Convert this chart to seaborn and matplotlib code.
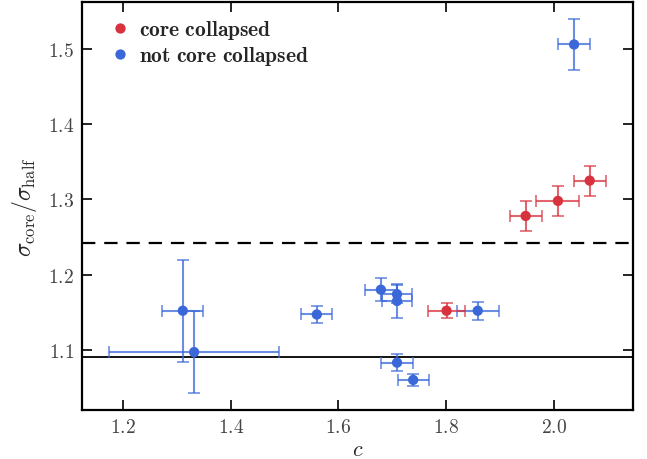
import matplotlib
matplotlib.use("Agg")
import matplotlib.pyplot as plt
import seaborn as sns
import pandas as pd
import numpy as np
from matplotlib.ticker import FuncFormatter, MultipleLocator

# Data
c_vals = [1.311, 1.332, 1.560, 1.679, 1.709, 1.709, 1.709, 1.739, 1.859, 2.038,
          1.801, 1.948, 2.008, 2.067]
ratio = [1.152, 1.097, 1.147, 1.180, 1.174, 1.165, 1.083, 1.060, 1.152, 1.506,
         1.152, 1.278, 1.298, 1.325]
c_err = [0.038, 0.158, 0.029, 0.030, 0.028, 0.028, 0.029, 0.029, 0.039, 0.030,
         0.035, 0.030, 0.040, 0.030]
ratio_err = [0.068, 0.055, 0.011, 0.015, 0.012, 0.022, 0.011, 0.008, 0.012, 0.034,
             0.010, 0.020, 0.020, 0.020]
group = ["not core collapsed"] * 10 + ["core collapsed"] * 4
hline_solid = 1.0907
hline_dashed = 1.2425

df = pd.DataFrame({"c": c_vals, "ratio": ratio, "c_err": c_err,
                   "ratio_err": ratio_err, "group": group})

sns.set_style("ticks")
plt.rcParams["mathtext.fontset"] = "cm"
plt.rcParams["font.family"] = ["DejaVu Serif"]

red = "#d8323f"
blue = "#3b68d9"
palette = {"core collapsed": red, "not core collapsed": blue}

fig = plt.figure(figsize=(6.47, 4.6), dpi=100)
ax = fig.add_axes([0.127, 0.1065, 0.851, 0.887])

ax.axhline(hline_solid, color="black", lw=1.3, zorder=1)
ax.axhline(hline_dashed, color="black", lw=1.6, ls=(0, (6, 4)), zorder=1)

for g in ["not core collapsed", "core collapsed"]:
    sub = df[df.group == g]
    ax.errorbar(sub.c, sub.ratio, xerr=sub.c_err, yerr=sub.ratio_err,
                fmt="none", ecolor=palette[g], elinewidth=1.5, capsize=4,
                capthick=1.2, alpha=0.75, zorder=2)

sns.scatterplot(data=df, x="c", y="ratio", hue="group",
                hue_order=["core collapsed", "not core collapsed"],
                palette=palette, s=55, linewidth=0, ax=ax, zorder=3)

ax.set_xlim(1.124, 2.147)
ax.set_ylim(1.02, 1.5625)
ax.xaxis.set_major_locator(MultipleLocator(0.2))
ax.yaxis.set_major_locator(MultipleLocator(0.1))
fmt = FuncFormatter(lambda v, p: r"$%.1f$" % v)
ax.xaxis.set_major_formatter(fmt)
ax.yaxis.set_major_formatter(fmt)
ax.tick_params(direction="in", length=7, width=1.2, top=True, right=True,
               labelsize=14, colors="black", labelcolor="#444444", pad=6)
for s in ax.spines.values():
    s.set_linewidth(1.6)
    s.set_color("black")

ax.set_xlabel(r"$c$", fontsize=16, labelpad=1)
ax.set_ylabel(r"$\sigma_{\rm core}/\sigma_{\rm half}$", fontsize=17, labelpad=6)

handles, labels = ax.get_legend_handles_labels()
new_labels = [r"$\mathbf{core\ collapsed}$", r"$\mathbf{not\ core\ collapsed}$"]
ax.legend(handles, new_labels, loc="upper left", frameon=False, fontsize=15.5,
          handletextpad=-0.1, borderaxespad=0.35, labelspacing=0.15,
          markerscale=1.0)

fig.savefig("out.png", dpi=100)
